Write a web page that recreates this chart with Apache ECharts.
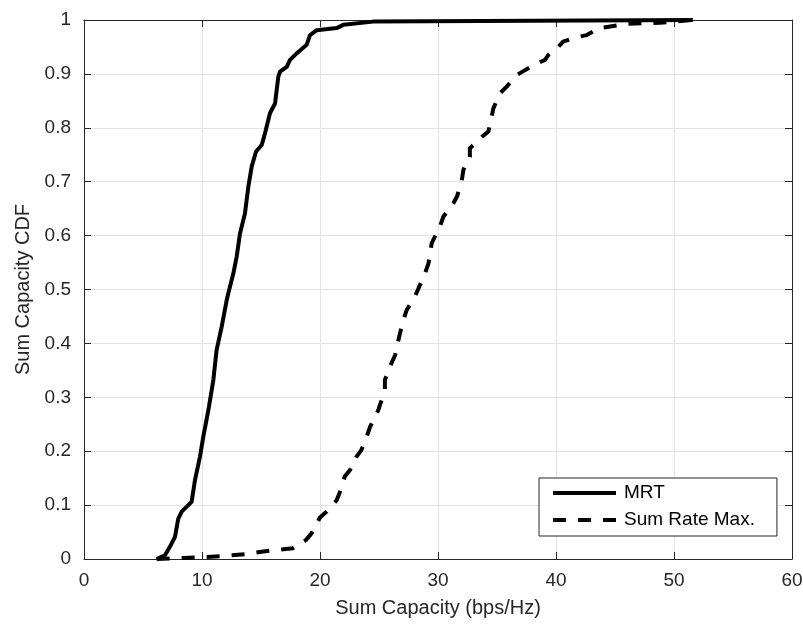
<!DOCTYPE html>
<html>
<head>
<meta charset="utf-8">
<style>
  html, body { margin: 0; padding: 0; background: #ffffff; }
  #chart { width: 803px; height: 626px; }
</style>
<script src="https://cdn.jsdelivr.net/npm/echarts@6/dist/echarts.min.js"></script>
</head>
<body>
<div id="chart"></div>
<script>
// Empirical CDF of sum capacity for the two precoding schemes
const seriesNames = ['MRT', 'Sum Rate Max.'];

const mrtCapacity = [6.16, 6.86, 7.29, 7.71, 7.99, 8.28, 9.12, 9.41, 9.83, 10.11, 10.54, 10.96, 11.24, 11.67, 12.09, 12.23, 12.66, 12.94, 13.22, 13.64, 13.93, 14.21, 14.58, 15.06, 15.34, 15.76, 16.19, 16.47, 16.61, 17.18, 17.46, 18.02, 18.87, 19.15, 19.72, 21.41, 21.97, 24.5, 51.6];
const mrtCdf = [0.0, 0.007, 0.023, 0.041, 0.075, 0.088, 0.106, 0.147, 0.19, 0.227, 0.276, 0.332, 0.388, 0.431, 0.48, 0.493, 0.53, 0.561, 0.604, 0.641, 0.691, 0.728, 0.756, 0.768, 0.79, 0.827, 0.845, 0.895, 0.904, 0.913, 0.926, 0.938, 0.954, 0.972, 0.981, 0.985, 0.991, 0.997, 1.0];

const srmCapacity = [6.16, 8.4, 11.5, 13.8, 15.2, 17.7, 18.8, 19.3, 20.0, 20.57, 21.41, 21.7, 22.1, 22.54, 23.1, 23.5, 23.96, 24.24, 24.94, 25.08, 25.5, 25.5, 25.93, 26.36, 26.78, 27.06, 27.35, 28.05, 28.9, 29.2, 29.47, 30.17, 30.45, 31.3, 31.6, 32.0, 32.15, 32.7, 32.7, 33.7, 34.27, 34.55, 34.69, 35.25, 35.8, 36.7, 37.37, 38.36, 39.07, 39.35, 40.2, 40.6, 41.75, 42.6, 43.7, 44.6, 46.0, 48.8, 51.6];
const srmCdf = [0.0, 0.002, 0.005, 0.009, 0.014, 0.02, 0.035, 0.048, 0.077, 0.088, 0.109, 0.125, 0.153, 0.165, 0.19, 0.202, 0.227, 0.245, 0.276, 0.286, 0.31, 0.332, 0.357, 0.378, 0.419, 0.443, 0.462, 0.487, 0.53, 0.549, 0.586, 0.617, 0.635, 0.66, 0.672, 0.7, 0.722, 0.746, 0.762, 0.783, 0.793, 0.821, 0.836, 0.864, 0.876, 0.898, 0.907, 0.919, 0.926, 0.935, 0.95, 0.96, 0.968, 0.972, 0.985, 0.988, 0.993, 0.995, 1.0];

const xTicks = { min: 0, max: 60, interval: 10 };
const yTicks = { min: 0, max: 1, interval: 0.1 };

const axisColor = '#262626';
const gridColor = '#e3e3e3';
const fontFamily = '"Liberation Sans", Arial, Helvetica, sans-serif';

function pairs(xs, ys) {
  return xs.map((x, i) => [x, ys[i]]);
}

function boxAxis(base, extra) {
  return Object.assign({
    type: 'value',
    min: base.min,
    max: base.max,
    interval: base.interval,
    axisLine: { show: true, onZero: false, lineStyle: { color: axisColor, width: 1 } },
    axisTick: { show: true, inside: true, length: 7, lineStyle: { color: axisColor, width: 1 } },
    splitLine: { show: false },
    axisLabel: { show: false }
  }, extra);
}

const chart = echarts.init(document.getElementById('chart'), null, { renderer: 'canvas' });

chart.setOption({
  animation: false,
  backgroundColor: '#ffffff',
  textStyle: { fontFamily: fontFamily },
  grid: { left: 84, right: 11, top: 20, bottom: 67, containLabel: false, outerBoundsMode: 'none' },
  xAxis: [
    boxAxis(xTicks, {
      position: 'bottom',
      splitLine: { show: true, lineStyle: { color: gridColor, width: 1 } },
      axisLabel: { show: true, color: axisColor, fontSize: 19, margin: 12, fontFamily: fontFamily },
      name: 'Sum Capacity (bps/Hz)',
      nameLocation: 'middle',
      nameGap: 39,
      nameTextStyle: { color: axisColor, fontSize: 20, fontFamily: fontFamily }
    }),
    boxAxis(xTicks, { position: 'top' })
  ],
  yAxis: [
    boxAxis(yTicks, {
      position: 'left',
      splitLine: { show: true, lineStyle: { color: gridColor, width: 1 } },
      axisLabel: { show: true, color: axisColor, fontSize: 19, margin: 13, fontFamily: fontFamily },
      name: 'Sum Capacity CDF',
      nameLocation: 'middle',
      nameGap: 46,
      nameTextStyle: { color: axisColor, fontSize: 20, fontFamily: fontFamily }
    }),
    boxAxis(yTicks, { position: 'right' })
  ],
  legend: {
    orient: 'vertical',
    left: 539,
    top: 478,
    padding: [5, 22, 6, 12],
    itemGap: 7,
    itemWidth: 63,
    itemHeight: 14,
    backgroundColor: '#ffffff',
    borderColor: axisColor,
    borderWidth: 1,
    borderRadius: 0,
    lineStyle: { width: 4 },
    itemStyle: { opacity: 0, borderWidth: 0 },
    textStyle: { color: '#000000', fontSize: 19, lineHeight: 20, fontFamily: fontFamily, padding: [0, 0, 0, 3] },
    data: seriesNames
  },
  series: [
    {
      name: seriesNames[0],
      type: 'line',
      xAxisIndex: 0,
      yAxisIndex: 0,
      data: pairs(mrtCapacity, mrtCdf),
      showSymbol: false,
      symbol: 'none',
      smooth: false,
      lineStyle: { color: '#000000', width: 4, type: 'solid', join: 'round', cap: 'butt' },
      itemStyle: { color: '#000000' },
      z: 3
    },
    {
      name: seriesNames[1],
      type: 'line',
      xAxisIndex: 0,
      yAxisIndex: 0,
      data: pairs(srmCapacity, srmCdf),
      showSymbol: false,
      symbol: 'none',
      smooth: false,
      lineStyle: { color: '#000000', width: 4, type: [13, 12], join: 'round', cap: 'butt' },
      itemStyle: { color: '#000000' },
      z: 2
    }
  ]
});
</script>
</body>
</html>
